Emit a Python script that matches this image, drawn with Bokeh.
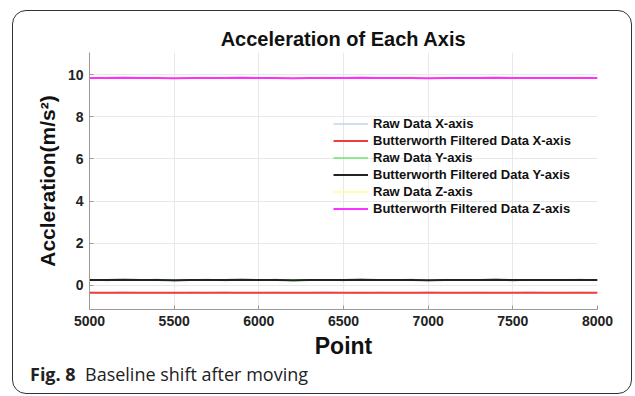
from bokeh.plotting import figure
from bokeh.layouts import column
from bokeh.models import Range1d, FixedTicker, Legend, LegendItem, Div
from bokeh.embed import file_html
from bokeh.resources import INLINE

points = [5000, 5100, 5200, 5300, 5400, 5500, 5600, 5700, 5800, 5900, 6000,
          6100, 6200, 6300, 6400, 6500, 6600, 6700, 6800, 6900, 7000,
          7100, 7200, 7300, 7400, 7500, 7600, 7700, 7800, 7900, 8000]

raw_x = [-0.34, -0.37, -0.33, -0.36, -0.35, -0.38, -0.34, -0.36, -0.33, -0.37, -0.35,
         -0.34, -0.37, -0.35, -0.33, -0.36, -0.38, -0.34, -0.35, -0.37, -0.33,
         -0.36, -0.35, -0.34, -0.37, -0.35, -0.33, -0.36, -0.35, -0.34, -0.36]
filt_x = [-0.35, -0.36, -0.35, -0.35, -0.36, -0.36, -0.35, -0.35, -0.35, -0.36, -0.35,
          -0.35, -0.36, -0.35, -0.35, -0.36, -0.36, -0.35, -0.35, -0.36, -0.35,
          -0.35, -0.35, -0.35, -0.36, -0.35, -0.35, -0.35, -0.35, -0.35, -0.35]
raw_y = [0.27, 0.23, 0.26, 0.24, 0.28, 0.22, 0.25, 0.27, 0.23, 0.26, 0.24,
         0.27, 0.22, 0.25, 0.26, 0.23, 0.27, 0.24, 0.25, 0.28, 0.23,
         0.26, 0.24, 0.25, 0.27, 0.22, 0.26, 0.24, 0.25, 0.27, 0.24]
filt_y = [0.25, 0.25, 0.26, 0.25, 0.25, 0.24, 0.25, 0.25, 0.25, 0.26, 0.25,
          0.25, 0.24, 0.25, 0.25, 0.25, 0.26, 0.25, 0.25, 0.25, 0.24,
          0.25, 0.25, 0.25, 0.26, 0.25, 0.25, 0.25, 0.25, 0.25, 0.25]
raw_z = [9.88, 9.80, 9.86, 9.82, 9.89, 9.79, 9.85, 9.87, 9.81, 9.86, 9.83,
         9.88, 9.80, 9.85, 9.87, 9.81, 9.86, 9.83, 9.84, 9.89, 9.80,
         9.86, 9.82, 9.85, 9.88, 9.80, 9.86, 9.83, 9.84, 9.87, 9.82]
filt_z = [9.84, 9.84, 9.85, 9.84, 9.84, 9.83, 9.84, 9.84, 9.84, 9.85, 9.84,
          9.84, 9.83, 9.84, 9.84, 9.84, 9.85, 9.84, 9.84, 9.84, 9.83,
          9.84, 9.84, 9.84, 9.85, 9.84, 9.84, 9.84, 9.84, 9.84, 9.84]

series_labels = ["Raw Data X-axis", "Butterworth Filtered Data X-axis",
                 "Raw Data Y-axis", "Butterworth Filtered Data Y-axis",
                 "Raw Data Z-axis", "Butterworth Filtered Data Z-axis"]
x_ticks = [5000, 5500, 6000, 6500, 7000, 7500, 8000]
y_ticks = [0, 2, 4, 6, 8, 10]
caption_label = "Fig. 8"
caption_text = "Baseline shift after moving"

FONT = "Liberation Sans"

p = figure(width=635, height=362, output_backend="svg", toolbar_location=None,
           x_range=Range1d(5000, 8000), y_range=Range1d(-1.15, 11.05),
           min_border_left=89, min_border_right=38, min_border_top=52,
           min_border_bottom=53)
p.background_fill_color = "white"
p.border_fill_color = None
p.background_fill_alpha = 0
p.outline_line_color = None

p.title.text = "Acceleration of Each Axis"
p.title.text_font = FONT
p.title.text_font_size = "20px"
p.title.text_font_style = "bold"
p.title.align = "center"
p.title.standoff = 6
p.title.text_color = "#111111"

p.xaxis.ticker = FixedTicker(ticks=x_ticks)
p.yaxis.ticker = FixedTicker(ticks=y_ticks)
for ax in (p.xaxis[0], p.yaxis[0]):
    ax.major_label_text_font = FONT
    ax.major_label_text_font_size = "14px"
    ax.major_label_text_font_style = "bold"
    ax.major_label_text_color = "#222222"
    ax.axis_label_text_font = FONT
    ax.axis_label_text_font_style = "bold"
    ax.axis_label_text_color = "#111111"
    ax.axis_line_color = "#9a9a9a"
    ax.major_tick_line_color = "#9a9a9a"
    ax.major_tick_in = 4
    ax.major_tick_out = 0
    ax.minor_tick_line_color = None
    ax.major_label_standoff = 6
p.xaxis.axis_label = "Point"
p.xaxis.axis_label_text_font_size = "23px"
p.xaxis.axis_label_standoff = 4
p.yaxis.axis_label = "Accleration(m/s²)"
p.yaxis.axis_label_text_font_size = "21px"
p.yaxis.axis_label_standoff = 6

p.xgrid.grid_line_color = "#e8e8e8"
p.ygrid.grid_line_color = "#e8e8e8"

colors = ["#bcd6f0", "#f03c3c", "#6fe46f", "#222222", "#ffff90", "#ff30ff"]
widths = [1.5, 2, 1.5, 2, 1.5, 2]
ys = [raw_x, filt_x, raw_y, filt_y, raw_z, filt_z]
renderers = []
for yv, c, w in zip(ys, colors, widths):
    renderers.append(p.line(points, yv, line_color=c, line_width=w))

legend = Legend(items=[LegendItem(label=l, renderers=[r]) for l, r in zip(series_labels, renderers)],
                location=(244, 92), background_fill_alpha=0, border_line_color=None,
                label_text_font=FONT, label_text_font_size="13px", label_text_font_style="bold",
                label_text_color="#111111", glyph_width=35, glyph_height=17, label_height=17,
                spacing=0, padding=0, margin=0, label_standoff=5)
p.add_layout(legend)

caption = Div(text=f"<b>{caption_label}</b>&nbsp;&nbsp;{caption_text}", width=610, height=34,
              styles={"font-family": "'Open Sans', sans-serif", "font-size": "18px",
                      "color": "#222222", "padding-left": "25px", "line-height": "14px"})

layout = column(p, caption, width=635, height=396, spacing=0)
layout.stylesheets = [":host { position: relative; background: white; } "
                      ":host::after { content: ''; position: absolute; left: 12px; top: 10px; "
                      "width: 620px; height: 384px; box-sizing: border-box; "
                      "border: 1.5px solid #333; border-radius: 14px; pointer-events: none; }"]

open("out.html", "w").write(file_html(layout, INLINE))
